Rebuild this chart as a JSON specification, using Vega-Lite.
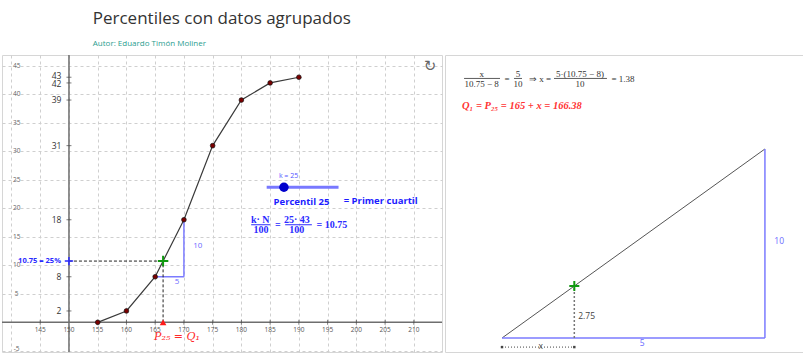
{
 "$schema": "https://vega.github.io/schema/vega-lite/v6.json",
 "background": "white",
 "padding": {"top": 9, "left": 0, "right": 0, "bottom": 0},
 "spacing": 0,
 "title": {"text": "Percentiles con datos agrupados", "subtitle": "Autor: Eduardo Timón Moliner", "anchor": "start", "frame": "bounds", "dx": 92, "font": "Open Sans", "fontSize": 17, "fontWeight": "normal", "color": "#333333", "subtitleFont": "Open Sans", "subtitleFontSize": 8, "subtitleColor": "#2a9d8f", "subtitlePadding": 12, "offset": 5},
 "config": {"view": {"stroke": "#d6d6d6"}, "text": {"font": "Open Sans"}},
 "datasets": {
  "axL": [{"x":138.35,"y":0,"x2":214.9,"y2":0},{"x":150,"y":-5.2,"x2":150,"y2":46.9}],
  "xtk": [{"x":145,"y":0},{"x":155,"y":0},{"x":160,"y":0},{"x":165,"y":0},{"x":170,"y":0},{"x":175,"y":0},{"x":180,"y":0},{"x":185,"y":0},{"x":190,"y":0},{"x":195,"y":0},{"x":200,"y":0},{"x":205,"y":0},{"x":210,"y":0}],
  "ytk": [{"x":150,"y":2},{"x":150,"y":8},{"x":150,"y":18},{"x":150,"y":31},{"x":150,"y":39},{"x":150,"y":42},{"x":150,"y":43}],
  "xlab": [{"x":145,"y":0,"t":"145"},{"x":150,"y":0,"t":"150"},{"x":155,"y":0,"t":"155"},{"x":160,"y":0,"t":"160"},{"x":165,"y":0,"t":"165"},{"x":170,"y":0,"t":"170"},{"x":175,"y":0,"t":"175"},{"x":180,"y":0,"t":"180"},{"x":185,"y":0,"t":"185"},{"x":190,"y":0,"t":"190"},{"x":195,"y":0,"t":"195"},{"x":200,"y":0,"t":"200"},{"x":205,"y":0,"t":"205"},{"x":210,"y":0,"t":"210"}],
  "ylabG": [{"x":140.9,"y":-4.7,"t":"-5"},{"x":140.9,"y":5,"t":"5"},{"x":140.9,"y":10,"t":"10"},{"x":140.9,"y":15,"t":"15"},{"x":140.9,"y":20,"t":"20"},{"x":140.9,"y":25,"t":"25"},{"x":140.9,"y":30,"t":"30"},{"x":140.9,"y":35,"t":"35"},{"x":140.9,"y":40,"t":"40"},{"x":140.9,"y":45,"t":"45"}],
  "ylabD": [{"x":148.7,"y":2,"t":"2"},{"x":148.7,"y":8,"t":"8"},{"x":148.7,"y":18,"t":"18"},{"x":148.7,"y":31,"t":"31"},{"x":148.7,"y":39,"t":"39"},{"x":148.7,"y":41.8,"t":"42"},{"x":148.7,"y":43.3,"t":"43"}],
  "blueSeg": [{"x":165,"y":8,"x2":170,"y2":8},{"x":170,"y":8,"x2":170,"y2":18}],
  "dashSeg": [{"x":150,"y":10.75,"x2":166.375,"y2":10.75},{"x":166.375,"y":0,"x2":166.375,"y2":10.75}],
  "ogive": [{"x":155,"y":0},{"x":160,"y":2},{"x":165,"y":8},{"x":170,"y":18},{"x":175,"y":31},{"x":180,"y":39},{"x":185,"y":42},{"x":190,"y":43}],
  "blueLab": [{"x":168.8,"y":7.0,"t":"5"},{"x":172.4,"y":13.4,"t":"10"}],
  "greenPt": [{"x":166.375,"y":10.75}],
  "bluePt": [{"x":150,"y":10.75}],
  "redPt": [{"x":166.375,"y":0}],
  "redLab": [{"x":168.8,"y":-2.5,"t":"P₂₅ = Q₁"}],
  "pctLab": [{"x":148.6,"y":10.75,"t":"10.75 = 25%"}],
  "slider": [{"x":184.4,"y":23.7,"x2":196.9,"y2":23.7}],
  "sliderDot": [{"x":187.4,"y":23.7}],
  "kLab": [{"x":188.2,"y":25.7,"t":"k = 25"}],
  "boldLab": [{"x":185.6,"y":21.2,"t":"Percentil 25"},{"x":197.8,"y":21.3,"t":"= Primer cuartil"}],
  "fmL": [{"x":183.27,"y":18.0,"t":"k· N"},{"x":183.39,"y":16.25,"t":"100"},{"x":186.35,"y":17.1,"t":"="},{"x":189.65,"y":18.0,"t":"25· 43"},{"x":189.65,"y":16.25,"t":"100"},{"x":195.74,"y":17.1,"t":"= 10.75"}],
  "fmBarL": [{"x":181.7,"y":17.12,"x2":185.0,"y2":17.12},{"x":187.62,"y":17.12,"x2":192.26,"y2":17.12}],
  "icon": [{"x":212.8,"y":44.9,"t":"↻"}],
  "triBlue": [{"x":0,"y":0,"x2":5,"y2":0},{"x":5,"y":0,"x2":5,"y2":10}],
  "triHyp": [{"x":0,"y":0,"x2":5,"y2":10}],
  "triDot": [{"x":1.375,"y":0,"x2":1.375,"y2":2.75}],
  "xSeg": [{"x":0,"y":-0.48,"x2":1.375,"y2":-0.48}],
  "xEnds": [{"x":0,"y":-0.48},{"x":1.375,"y":-0.48}],
  "triGreen": [{"x":1.375,"y":2.75}],
  "triLabG": [{"x":1.61,"y":1.18,"t":"2.75"},{"x":0.735,"y":-0.42,"t":"x"}],
  "triLabB": [{"x":5.27,"y":5.15,"t":"10"},{"x":2.667,"y":-0.26,"t":"5"}],
  "fmR": [{"x":-0.386,"y":13.98,"t":"x"},{"x":-0.386,"y":13.44,"t":"10.75 − 8"},{"x":0.095,"y":13.7,"t":"="},{"x":0.304,"y":13.98,"t":"5"},{"x":0.304,"y":13.44,"t":"10"},{"x":0.722,"y":13.7,"t":"⇒ x ="},{"x":1.483,"y":13.98,"t":"5·(10.75 − 8)"},{"x":1.483,"y":13.44,"t":"10"},{"x":2.3,"y":13.7,"t":"= 1.38"}],
  "fmBarR": [{"x":-0.722,"y":13.73,"x2":-0.038,"y2":13.73},{"x":0.228,"y":13.73,"x2":0.38,"y2":13.73},{"x":0.989,"y":13.73,"x2":1.996,"y2":13.73}],
  "redR": [{"x":-0.76,"y":12.29,"t":"Q₁ =  P₂₅ = 165 + x = 166.38"}]
 },
 "hconcat": [
  {
   "width": 440, "height": 297,
   "encoding": {
    "x": {"field": "x", "type": "quantitative", "scale": {"domain": [138.35, 214.9], "nice": false, "zero": false}, "axis": {"values": [140,145,150,155,160,165,170,175,180,185,190,195,200,205,210], "grid": true, "gridDash": [3,3], "gridColor": "#cfcfcf", "labels": false, "ticks": false, "domain": false, "title": null}},
    "y": {"field": "y", "type": "quantitative", "scale": {"domain": [-5.2, 46.9], "nice": false, "zero": false}, "axis": {"values": [-5,0,5,10,15,20,25,30,35,40,45], "grid": true, "gridDash": [3,3], "gridColor": "#cfcfcf", "labels": false, "ticks": false, "domain": false, "title": null}}
   },
   "layer": [
    {"data": {"name": "axL"}, "mark": {"type": "rule", "color": "#6e6e6e", "strokeWidth": 1.5}, "encoding": {"x2": {"field": "x2"}, "y2": {"field": "y2"}}},
    {"data": {"name": "xtk"}, "mark": {"type": "tick", "orient": "vertical", "size": 5, "thickness": 1, "color": "#444"}},
    {"data": {"name": "ytk"}, "mark": {"type": "tick", "orient": "horizontal", "size": 5, "thickness": 1, "color": "#444"}},
    {"data": {"name": "xlab"}, "mark": {"type": "text", "fontSize": 6.5, "color": "#555", "dy": 8}, "encoding": {"text": {"field": "t"}}},
    {"data": {"name": "ylabG"}, "mark": {"type": "text", "fontSize": 6.5, "color": "#666"}, "encoding": {"text": {"field": "t"}}},
    {"data": {"name": "ylabD"}, "mark": {"type": "text", "fontSize": 8.5, "color": "#333", "align": "right"}, "encoding": {"text": {"field": "t"}}},
    {"data": {"name": "blueSeg"}, "mark": {"type": "rule", "color": "#7b7bff", "strokeWidth": 1.5}, "encoding": {"x2": {"field": "x2"}, "y2": {"field": "y2"}}},
    {"data": {"name": "dashSeg"}, "mark": {"type": "rule", "color": "#222", "strokeWidth": 1, "strokeDash": [3,2]}, "encoding": {"x2": {"field": "x2"}, "y2": {"field": "y2"}}},
    {"data": {"name": "ogive"}, "mark": {"type": "line", "color": "#3a3a3a", "strokeWidth": 1.2}},
    {"data": {"name": "ogive"}, "mark": {"type": "point", "filled": true, "fill": "#7a0000", "stroke": "#111", "strokeWidth": 0.7, "size": 22, "opacity": 1}},
    {"data": {"name": "blueLab"}, "mark": {"type": "text", "fontSize": 8, "color": "#6b6bff"}, "encoding": {"text": {"field": "t"}}},
    {"data": {"name": "greenPt"}, "mark": {"type": "point", "shape": "M-1,0L1,0M0,-1L0,1", "stroke": "#109a10", "strokeWidth": 2, "size": 110, "opacity": 1}},
    {"data": {"name": "bluePt"}, "mark": {"type": "point", "shape": "M-1,0L1,0M0,-1L0,1", "stroke": "#2a2aff", "strokeWidth": 1.5, "size": 70, "opacity": 1}},
    {"data": {"name": "redPt"}, "mark": {"type": "point", "shape": "triangle-up", "filled": true, "fill": "#ff1a1a", "size": 45, "opacity": 1}},
    {"data": {"name": "redLab"}, "mark": {"type": "text", "font": "DejaVu Serif", "fontStyle": "italic", "fontSize": 11, "color": "#ff2a2a"}, "encoding": {"text": {"field": "t"}}},
    {"data": {"name": "pctLab"}, "mark": {"type": "text", "fontSize": 7.5, "fontWeight": "bold", "color": "#2a2aff", "align": "right"}, "encoding": {"text": {"field": "t"}}},
    {"data": {"name": "slider"}, "mark": {"type": "rule", "color": "#7878ff", "strokeWidth": 3}, "encoding": {"x2": {"field": "x2"}, "y2": {"field": "y2"}}},
    {"data": {"name": "sliderDot"}, "mark": {"type": "point", "filled": true, "fill": "#0000cc", "shape": "circle", "size": 90, "opacity": 1}},
    {"data": {"name": "kLab"}, "mark": {"type": "text", "fontSize": 7, "color": "#5555ff"}, "encoding": {"text": {"field": "t"}}},
    {"data": {"name": "boldLab"}, "mark": {"type": "text", "fontSize": 9.5, "fontWeight": "bold", "color": "#1c1cff", "align": "left"}, "encoding": {"text": {"field": "t"}}},
    {"data": {"name": "fmL"}, "mark": {"type": "text", "font": "Liberation Serif", "fontSize": 10, "fontWeight": "bold", "color": "#2a2aff"}, "encoding": {"text": {"field": "t"}}},
    {"data": {"name": "fmBarL"}, "mark": {"type": "rule", "color": "#2a2aff", "strokeWidth": 1}, "encoding": {"x2": {"field": "x2"}, "y2": {"field": "y2"}}},
    {"data": {"name": "icon"}, "mark": {"type": "text", "font": "DejaVu Sans", "fontSize": 15, "color": "#666"}, "encoding": {"text": {"field": "t"}}}
   ]
  },
  {
   "width": 362, "height": 297,
   "encoding": {
    "x": {"field": "x", "type": "quantitative", "scale": {"domain": [-1.084, 5.8], "nice": false, "zero": false}, "axis": null},
    "y": {"field": "y", "type": "quantitative", "scale": {"domain": [-0.74, 14.97], "nice": false, "zero": false}, "axis": null}
   },
   "layer": [
    {"data": {"name": "triHyp"}, "mark": {"type": "rule", "color": "#555", "strokeWidth": 1}, "encoding": {"x2": {"field": "x2"}, "y2": {"field": "y2"}}},
    {"data": {"name": "triBlue"}, "mark": {"type": "rule", "color": "#7b7bff", "strokeWidth": 1.5}, "encoding": {"x2": {"field": "x2"}, "y2": {"field": "y2"}}},
    {"data": {"name": "triDot"}, "mark": {"type": "rule", "color": "#777", "strokeWidth": 1.5, "strokeDash": [2,2]}, "encoding": {"x2": {"field": "x2"}, "y2": {"field": "y2"}}},
    {"data": {"name": "xSeg"}, "mark": {"type": "rule", "color": "#444", "strokeWidth": 1, "strokeDash": [1,2]}, "encoding": {"x2": {"field": "x2"}, "y2": {"field": "y2"}}},
    {"data": {"name": "xEnds"}, "mark": {"type": "point", "shape": "square", "filled": true, "fill": "#444", "size": 6, "opacity": 1}},
    {"data": {"name": "triGreen"}, "mark": {"type": "point", "shape": "M-1,0L1,0M0,-1L0,1", "stroke": "#109a10", "strokeWidth": 2, "size": 100, "opacity": 1}},
    {"data": {"name": "triLabG"}, "mark": {"type": "text", "fontSize": 8.5, "color": "#444"}, "encoding": {"text": {"field": "t"}}},
    {"data": {"name": "triLabB"}, "mark": {"type": "text", "fontSize": 8.5, "color": "#6b6bff"}, "encoding": {"text": {"field": "t"}}},
    {"data": {"name": "fmR"}, "mark": {"type": "text", "font": "Liberation Serif", "fontSize": 9, "color": "#333"}, "encoding": {"text": {"field": "t"}}},
    {"data": {"name": "fmBarR"}, "mark": {"type": "rule", "color": "#333", "strokeWidth": 0.8}, "encoding": {"x2": {"field": "x2"}, "y2": {"field": "y2"}}},
    {"data": {"name": "redR"}, "mark": {"type": "text", "font": "Liberation Serif", "fontSize": 10.5, "fontWeight": "bold", "fontStyle": "italic", "color": "#ff3333", "align": "left"}, "encoding": {"text": {"field": "t"}}}
   ]
  }
 ]
}
